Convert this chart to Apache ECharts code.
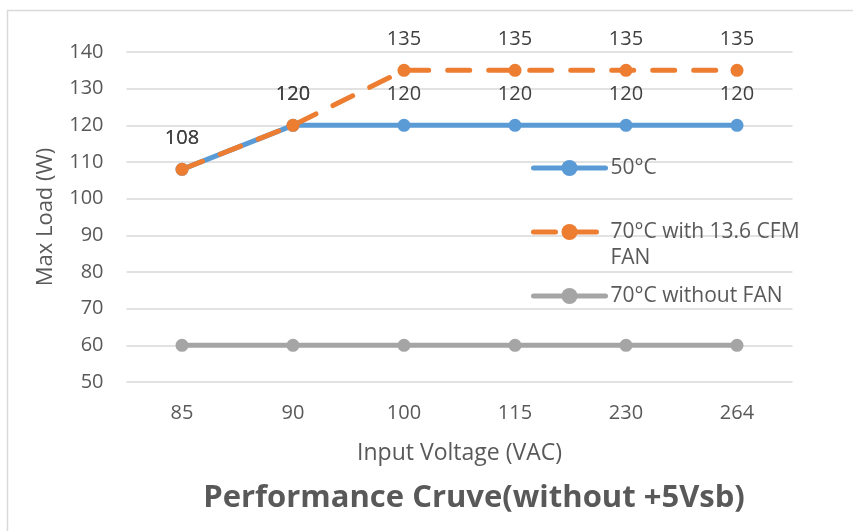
<!DOCTYPE html>
<html>
<head>
<meta charset="utf-8">
<script src="https://cdn.jsdelivr.net/npm/echarts@6/dist/echarts.min.js"></script>
<style>
html,body{margin:0;padding:0;background:#fff;}
#chart{width:853px;height:531px;}
</style>
</head>
<body>
<div id="chart"></div>
<script>
const categories = ['85', '90', '100', '115', '230', '264'];
const load50C = [108, 120, 120, 120, 120, 120];
const load70CFan = [108, 120, 135, 135, 135, 135];
const load70CNoFan = [60, 60, 60, 60, 60, 60];
const seriesNames = ['50°C', '70°C with 13.6 CFM FAN', '70°C without FAN'];
const yMin = 50, yMax = 140, yStep = 10;

const FONT = '"Open Sans", sans-serif';
const TXT = '#595959';
const chart = echarts.init(document.getElementById('chart'));

function lineSeries(name, data, color, dashed, showLabel) {
  return {
    name: name,
    type: 'line',
    data: data,
    symbol: 'circle',
    symbolSize: 13,
    color: color,
    lineStyle: { width: 5, color: color, type: dashed ? [22, 19] : 'solid', cap: 'round' },
    itemStyle: { color: color },
    label: {
      show: showLabel,
      position: 'top',
      distance: 15,
      fontFamily: FONT,
      fontSize: 20,
      color: '#404040'
    },
    emphasis: { disabled: true },
    animation: false
  };
}

chart.setOption({
  animation: false,
  backgroundColor: '#fff',
  graphic: [{
    type: 'rect',
    shape: { x: 7.5, y: 10.5, width: 1000, height: 700 },
    style: { fill: 'none', stroke: '#d9d9d9', lineWidth: 1.5 },
    silent: true, z: -10
  }],
  title: {
    text: 'Performance Cruve(without +5Vsb)',
    left: 474, top: 483, textAlign: 'center', padding: 0,
    textStyle: { fontFamily: FONT, fontSize: 31, fontWeight: 'bold', color: TXT }
  },
  grid: { left: 126.5, right: 60.5, top: 52, bottom: 149, containLabel: false },
  legend: {
    orient: 'vertical',
    left: 531, top: 155,
    padding: 0,
    itemWidth: 72, itemHeight: 20,
    itemGap: 12,
    textStyle: {
      fontFamily: FONT, fontSize: 21, color: TXT, lineHeight: 26,
      rich: {
        t: { fontFamily: FONT, fontSize: 21, color: TXT, lineHeight: 26 },
        e: { fontSize: 10, lineHeight: 26 }
      }
    },
    lineStyle: { width: 5 },
    data: seriesNames,
    formatter: function (n) {
      return n === seriesNames[1] ? '{e| }\n{t|70°C with 13.6 CFM}\n{t|FAN}' : '{t|' + n + '}';
    }
  },
  xAxis: {
    type: 'category',
    data: categories,
    boundaryGap: true,
    name: 'Input Voltage (VAC)',
    nameLocation: 'middle',
    nameGap: 60,
    nameTextStyle: { fontFamily: FONT, fontSize: 23, color: TXT },
    axisLine: { show: false },
    axisTick: { show: false },
    axisLabel: { fontFamily: FONT, fontSize: 20, color: TXT, margin: 21 }
  },
  yAxis: {
    type: 'value',
    min: yMin, max: yMax, interval: yStep,
    name: 'Max Load (W)',
    nameLocation: 'middle',
    nameGap: 70,
    nameTextStyle: { fontFamily: FONT, fontSize: 22, color: TXT },
    axisLine: { show: false },
    axisTick: { show: false },
    splitLine: { lineStyle: { color: '#d9d9d9', width: 1.5 } },
    axisLabel: { fontFamily: FONT, fontSize: 20, color: TXT, margin: 23 }
  },
  series: [
    lineSeries(seriesNames[0], load50C, '#5B9BD5', false, true),
    lineSeries(seriesNames[1], load70CFan, '#ED7D31', true, true),
    lineSeries(seriesNames[2], load70CNoFan, '#A5A5A5', false, false)
  ]
});
</script>
</body>
</html>
